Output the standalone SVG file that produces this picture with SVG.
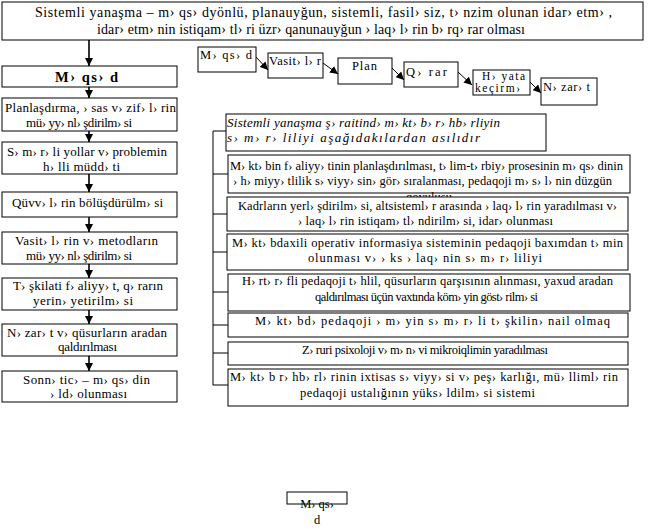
<svg xmlns="http://www.w3.org/2000/svg" width="665" height="529" viewBox="0 0 665 529">
<style>
rect{fill:#fff;stroke:#000;stroke-width:1}
text{font-family:"Liberation Serif","Times New Roman",serif;font-size:12.5px;fill:#000}
.c{text-anchor:middle}
.t{font-size:14px}
.m{font-size:13px}
.s{font-size:11.5px}
.b{font-size:14.5px;font-weight:bold}
.i{font-style:italic;font-size:13px}
.v{stroke:#000;stroke-width:1.6;fill:none}
.d{stroke:#000;stroke-width:1;fill:none}
.l{stroke:#000;stroke-width:1;fill:none}
</style>
<defs>
<marker id="ah" viewBox="0 0 10 10" refX="10" refY="5" markerWidth="8" markerHeight="8" markerUnits="userSpaceOnUse" orient="auto">
<path d="M0,0 L10,5 L0,10 z" fill="#000"/>
</marker>
</defs>
<rect x="0" y="0" width="665" height="529" style="stroke:none"/>

<g id="top">
<rect x="2" y="2" width="641" height="38"/>
<text class="t" x="35" y="17" textLength="577">Sistemli yanaşma – m› qs› dyönlü, planauyğun, sistemli, fasil› siz, t› nzim olunan idar› etm› ,</text>
<text class="t" x="97" y="34" textLength="428">idar› etm› nin istiqam› tl› ri üzr›  qanunauyğun › laq› l› rin b› rq› rar olması</text>
</g>

<g id="connectors">
<line class="v" x1="89" y1="40" x2="89" y2="66" marker-end="url(#ah)"/>
<line class="v" x1="89" y1="87" x2="89" y2="98" marker-end="url(#ah)"/>
<line class="v" x1="89" y1="131" x2="89" y2="142" marker-end="url(#ah)"/>
<line class="v" x1="89" y1="174" x2="89" y2="192" marker-end="url(#ah)"/>
<line class="v" x1="89" y1="217" x2="89" y2="232" marker-end="url(#ah)"/>
<line class="v" x1="89" y1="264" x2="89" y2="278" marker-end="url(#ah)"/>
<line class="v" x1="89" y1="310" x2="89" y2="324" marker-end="url(#ah)"/>
<line class="v" x1="89" y1="356" x2="89" y2="371" marker-end="url(#ah)"/>
<line class="d" x1="256" y1="57" x2="268" y2="70" marker-end="url(#ah)"/>
<line class="d" x1="323" y1="63" x2="338" y2="74" marker-end="url(#ah)"/>
<line class="d" x1="392" y1="68" x2="404" y2="80" marker-end="url(#ah)"/>
<line class="d" x1="458" y1="72" x2="472" y2="85" marker-end="url(#ah)"/>
<line class="d" x1="530" y1="82" x2="541" y2="93" marker-end="url(#ah)"/>
<polyline class="l" points="226,131 213,131 213,385 228,385"/>
<line class="l" x1="213" y1="174" x2="228" y2="174"/>
<line class="l" x1="213" y1="214" x2="227" y2="214"/>
<line class="l" x1="213" y1="252" x2="227" y2="252"/>
<line class="l" x1="213" y1="292" x2="228" y2="292"/>
<line class="l" x1="213" y1="325" x2="228" y2="325"/>
<line class="l" x1="213" y1="353" x2="228" y2="353"/>
</g>

<g id="L1"><rect x="2" y="66" width="175" height="21"/><text class="b" x="55" y="82" textLength="63">M› qs› d</text></g>
<g id="L2"><rect x="2" y="98" width="175" height="33"/><text class="m" x="5" y="112" textLength="171">Planlaşdırma, › sas v› zif› l› rin</text><text class="m" x="26" y="127" textLength="106">mü› yy› nl› şdirilm› si</text></g>
<g id="L3"><rect x="2" y="142" width="175" height="32"/><text class="m" x="7" y="156" textLength="160">S› m› r› li yollar v›  problemin</text><text class="m" x="43" y="171" textLength="77">h› lli müdd› ti</text></g>
<g id="L4"><rect x="2" y="192" width="175" height="25"/><text class="m" x="12" y="207" textLength="151">Qüvv› l› rin bölüşdürülm› si</text></g>
<g id="L5"><rect x="2" y="232" width="175" height="32"/><text class="m" x="15" y="245" textLength="143">Vasit› l› rin v›  metodların</text><text class="m" x="26" y="260" textLength="106">mü› yy› nl› şdirilm› si</text></g>
<g id="L6"><rect x="2" y="278" width="175" height="32"/><text class="m" x="13" y="290" textLength="150">T› şkilati f› aliyy› t, q› rarın</text><text class="m" x="33" y="305" textLength="100">yerin›  yetirilm› si</text></g>
<g id="L7"><rect x="2" y="324" width="175" height="32"/><text class="m" x="7" y="337" textLength="160">N› zar› t v›  qüsurların aradan</text><text class="m" x="58" y="351" textLength="59">qaldırılması</text></g>
<g id="L8"><rect x="2" y="371" width="175" height="31"/><text class="m" x="23" y="384" textLength="127">Sonn› tic›  – m› qs› din</text><text class="m" x="50" y="398" textLength="77">› ld›  olunması</text></g>

<g id="F1"><rect x="198" y="47" width="58" height="25"/><text x="200" y="59" textLength="52">M› qs› d</text></g>
<g id="F2"><rect x="268" y="53" width="55" height="25"/><text x="269" y="65" textLength="52">Vasit› l› r</text></g>
<g id="F3"><rect x="338" y="58" width="54" height="26"/><text x="352" y="70" textLength="25">Plan</text></g>
<g id="F4"><rect x="404" y="62" width="54" height="25"/><text x="406" y="76" textLength="41">Q› rar</text></g>
<g id="F5"><rect x="473" y="70" width="57" height="25"/><text class="s" x="482" y="80" textLength="43">H› yata</text><text class="s" x="475" y="92" textLength="45">keçirm› </text></g>
<g id="F6"><rect x="541" y="78" width="56" height="27"/><text x="543" y="91" textLength="47">N› zar› t</text></g>

<g id="R0"><rect x="226" y="114" width="320" height="37"/><text class="i" x="227" y="127" textLength="273">Sistemli yanaşma ş› raitind›  m› kt› b›  r› hb› rliyin</text><text class="i" x="227" y="142" textLength="253">s› m› r› liliyi aşağıdakılardan asılıdır</text></g>
<g id="R1"><rect x="228" y="155" width="402" height="38"/><text x="230" y="170" textLength="393">M› kt› bin f› aliyy› tinin planlaşdırılması, t› lim-t› rbiy›  prosesinin m› qs› dinin</text><text x="233" y="185" textLength="379">› h› miyy› tlilik s› viyy› sin›  gör›  sıralanması, pedaqoji m› s› l› nin düzgün</text><text class="c" x="429" y="201">qoyuluşu</text></g>
<g id="R2"><rect x="227" y="197" width="401" height="34"/><text x="238" y="210" textLength="379">Kadrların yerl› şdirilm› si, altsisteml› r arasında › laq› l› rin yaradılması v› </text><text x="298" y="225" textLength="255">› laq› l› rin istiqam› tl› ndirilm› si, idar›  olunması</text></g>
<g id="R3"><rect x="227" y="234" width="401" height="36"/><text x="232" y="247" textLength="391">M› kt› bdaxili operativ informasiya sisteminin pedaqoji baxımdan t› min</text><text x="308" y="262" textLength="234">olunması v›  › ks › laq› nin s› m› r› liliyi</text></g>
<g id="R4"><rect x="228" y="274" width="402" height="37"/><text x="242" y="285" textLength="371">H› rt› r› fli pedaqoji t› hlil, qüsurların qarşısının alınması, yaxud aradan</text><text x="315" y="301" textLength="223">qaldırılması üçün vaxtında köm› yin göst› rilm› si</text></g>
<g id="R5"><rect x="228" y="313" width="400" height="24"/><text x="255" y="325" textLength="355">M› kt› bd›  pedaqoji › m› yin s› m› r› li t› şkilin›  nail olmaq</text></g>
<g id="R6"><rect x="228" y="342" width="400" height="23"/><text x="302" y="354" textLength="246">Z› ruri psixoloji v›  m› n› vi mikroiqlimin yaradılması</text></g>
<g id="R7"><rect x="228" y="369" width="400" height="37"/><text x="230" y="381" textLength="388">M› kt› b r› hb› rl› rinin ixtisas s› viyy› si v›  peş› karlığı, mü› lliml› rin</text><text x="300" y="397" textLength="235">pedaqoji ustalığının yüks› ldilm› si sistemi</text></g>

<g id="B1"><rect x="287" y="492" width="60" height="12"/><text class="c" x="317" y="508">M› qs› </text><text class="c" x="317" y="524">d</text></g>
</svg>
